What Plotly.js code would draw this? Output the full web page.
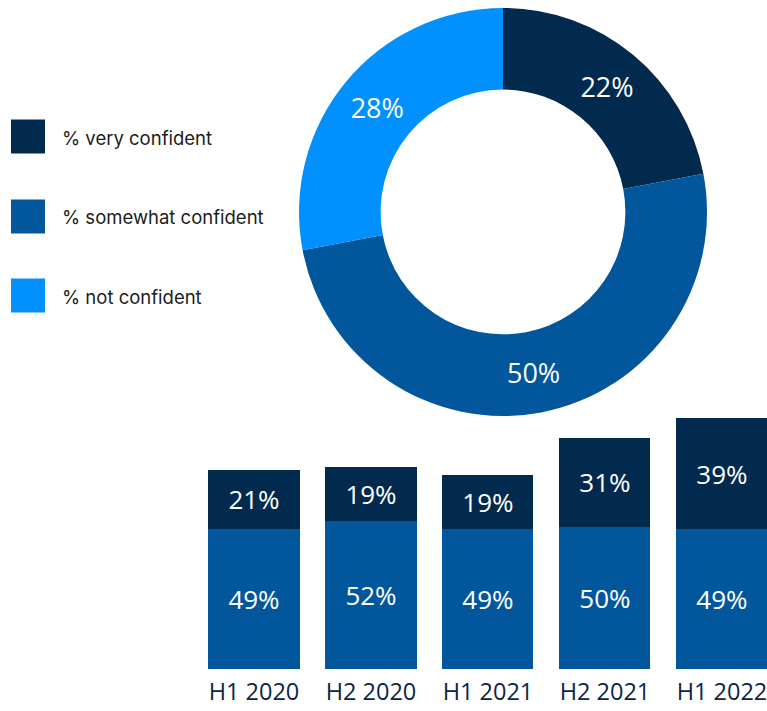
<!DOCTYPE html>
<html>
<head>
<meta charset="utf-8">
<script src="https://cdn.plot.ly/plotly-3.0.1.min.js"></script>
<style>
  html, body { margin: 0; padding: 0; background: #ffffff; }
  #chart { width: 767px; height: 711px; }
</style>
</head>
<body>
<div id="chart"></div>
<script>
// ---- data ----
const confidenceLabels = ['% very confident', '% somewhat confident', '% not confident'];
const donutValues = [22, 50, 28];
const periods = ['H1 2020', 'H2 2020', 'H1 2021', 'H2 2021', 'H1 2022'];
const veryConfident = [21, 19, 19, 31, 39];
const somewhatConfident = [49, 52, 49, 50, 49];

// ---- styles ----
const colors = ['#012a4e', '#02579c', '#0191fe'];
const W = 767, H = 711;
const numFont = '"Open Sans", sans-serif';

const donut = {
  type: 'pie',
  labels: confidenceLabels,
  values: donutValues,
  sort: false,
  direction: 'clockwise',
  rotation: 0,
  hole: 0.6,
  marker: { colors: colors, line: { width: 0 } },
  texttemplate: '%{value}%',
  textposition: 'inside',
  insidetextorientation: 'horizontal',
  textfont: { family: numFont, size: 27, color: '#ffffff' },
  domain: { x: [(503 - 204) / W, (503 + 204) / W], y: [1 - 416 / H, 1 - 8 / H] },
  showlegend: false,
  hoverinfo: 'none'
};

const barCommon = {
  type: 'bar',
  x: periods,
  textposition: 'inside',
  insidetextanchor: 'middle',
  textangle: 0,
  constraintext: 'none',
  texttemplate: '%{y}%',
  textfont: { family: numFont, size: 26, color: '#ffffff' },
  showlegend: false,
  hoverinfo: 'none',
  xaxis: 'x', yaxis: 'y'
};

const barSomewhat = Object.assign({}, barCommon, {
  y: somewhatConfident, name: confidenceLabels[1],
  marker: { color: colors[1], line: { width: 0 } }
});
const barVery = Object.assign({}, barCommon, {
  y: veryConfident, name: confidenceLabels[0],
  marker: { color: colors[0], line: { width: 0 } }
});

// legend drawn as squares + text
const shapes = [];
const annotations = [];
const legendCenters = [136.5, 216.5, 295.5];
confidenceLabels.forEach((lab, i) => {
  const cy = legendCenters[i];
  shapes.push({
    type: 'rect', xref: 'paper', yref: 'paper',
    x0: 11 / W, x1: 45 / W,
    y0: 1 - (cy + 17) / H, y1: 1 - (cy - 17) / H,
    fillcolor: colors[i], line: { width: 0 }
  });
  annotations.push({
    xref: 'paper', yref: 'paper',
    x: 60 / W, y: 1 - (cy + 1) / H,
    xanchor: 'left', yanchor: 'middle',
    text: lab, showarrow: false,
    font: { family: 'Inter, "Noto Sans", sans-serif', size: 18.5, color: '#1c1c1c' }
  });
});

const layout = {
  width: W, height: H,
  margin: { l: 0, r: 0, t: 0, b: 0, pad: 0 },
  paper_bgcolor: '#ffffff',
  plot_bgcolor: 'rgba(0,0,0,0)',
  barmode: 'stack',
  bargap: 0.222,
  xaxis: {
    domain: [195.5 / W, 1],
    range: [-0.5, 4.385],
    autorange: false,
    showgrid: false, zeroline: false, showline: false,
    ticks: '',
    ticklabelstandoff: 6,
    tickfont: { family: numFont, size: 23.5, color: '#0b2545' },
    fixedrange: true
  },
  yaxis: {
    domain: [42 / H, (H - 384) / H],
    range: [0, 100],
    autorange: false,
    visible: false,
    fixedrange: true
  },
  shapes: shapes,
  annotations: annotations,
  showlegend: false
};

Plotly.newPlot('chart', [donut, barSomewhat, barVery], layout, { displayModeBar: false, staticPlot: true });
</script>
</body>
</html>
